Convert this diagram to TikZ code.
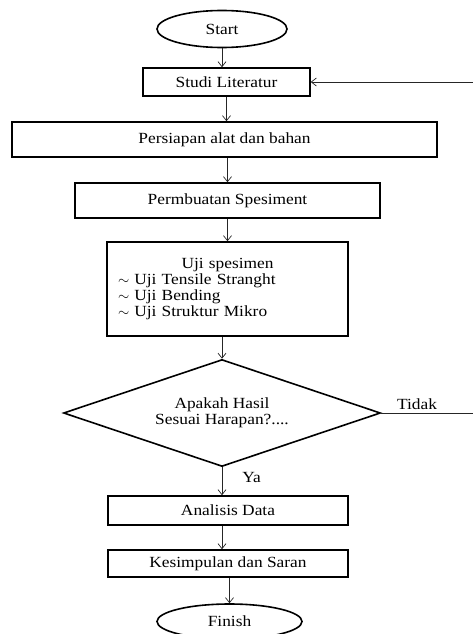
\documentclass[tikz,border=0pt]{standalone}
\usepackage{fontspec}
\setmainfont{Liberation Serif}[FakeStretch=1.12]
\usetikzlibrary{arrows.meta,shapes.geometric}

\begin{document}
\begin{tikzpicture}[x=1pt, y=-1pt, font=\fontsize{15.5}{16}\selectfont,
    terminal/.style={ellipse, draw, line width=1.6pt, inner sep=0pt},
    procbox/.style={rectangle, draw, line width=1.6pt, inner sep=0pt},
    decision/.style={diamond, aspect=3, draw, line width=1.6pt, inner sep=0pt, align=center},
    flow/.style={-{Straight Barb[length=5pt,width=8pt]}, line width=0.7pt, draw=black!85}]
  \useasboundingbox (0,0) rectangle (473,634);
  % Start / Finish
  \node[terminal, minimum width=130pt, minimum height=37pt] (start) at (222,29) {Start};
  \node[terminal, minimum width=145pt, minimum height=35pt] (finish) at (229.5,621.5) {Finish};
  % Process boxes
  \node[procbox, minimum width=167pt, minimum height=28pt] (studi) at (226.5,82) {Studi Literatur};
  \node[procbox, minimum width=425pt, minimum height=35pt] (persiapan) at (224.5,139.5) {Persiapan alat dan bahan};
  \node[procbox, minimum width=305pt, minimum height=35pt] (permbuatan) at (227.5,200.5) {Permbuatan Spesiment};
  \node[procbox, minimum width=241pt, minimum height=94pt, text width=219pt, align=left]
    (uji) at (227.5,289)
    {\hfill Uji spesimen\hfill\null\\
     $\sim$ Uji Tensile Stranght\\
     $\sim$ Uji Bending\\
     $\sim$ Uji Struktur Mikro};
  % Decision
  \node[decision, minimum width=317pt, minimum height=107pt] (dec) at (222,413)
    {Apakah Hasil\\Sesuai Harapan?....};
  \node[procbox, minimum width=240pt, minimum height=29pt] (analisis) at (228,510.5) {Analisis Data};
  \node[procbox, minimum width=240pt, minimum height=27pt] (kesimpulan) at (228,563.5) {Kesimpulan dan Saran};
  % Connectors
  \draw[flow] (start.south) -- (start.south |- studi.north);
  \draw[flow] (studi.south) -- (studi.south |- persiapan.north);
  \draw[flow] (permbuatan.north |- persiapan.south) -- (permbuatan.north);
  \draw[flow] (permbuatan.south) -- (uji.north);
  \draw[flow] (dec.north |- uji.south) -- (dec.north);
  \draw[flow] (dec.south) -- (dec.south |- analisis.north)
    node[pos=0.38, anchor=west, xshift=20pt, inner sep=0pt] {Ya};
  \draw[flow] (dec.south |- analisis.south) -- (dec.south |- kesimpulan.north);
  \draw[flow] (finish.north |- kesimpulan.south) -- (finish.north);
  % Loop back (Tidak)
  \coordinate (tidakend) at (473,413);
  \coordinate (backstart) at (473,82);
  \draw[line width=0.7pt, draw=black!85] (dec.east) -- node[above, pos=0.39] {Tidak} (tidakend);
  \draw[flow] (backstart) -- (studi.east);
\end{tikzpicture}
\end{document}
